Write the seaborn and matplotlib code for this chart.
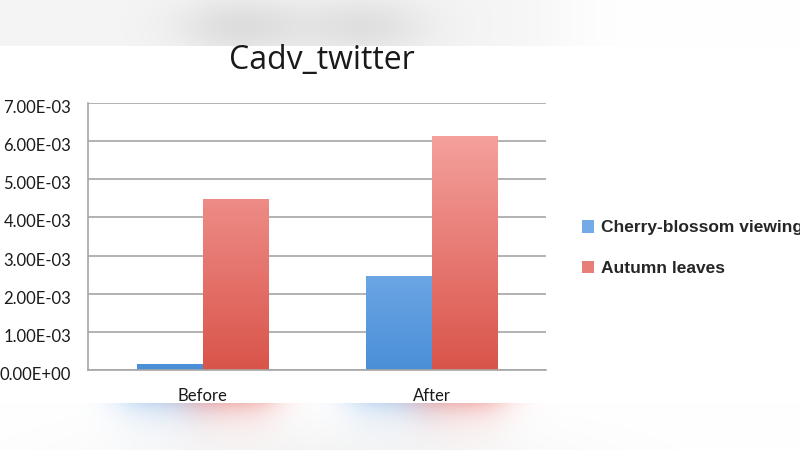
import numpy as np
import pandas as pd
import seaborn as sns
import matplotlib.pyplot as plt
from matplotlib.ticker import FuncFormatter, MultipleLocator
from matplotlib.colors import LinearSegmentedColormap, to_rgb
from matplotlib.patches import Patch
from matplotlib.transforms import ScaledTranslation

# data
periods = ["Before", "After"]
cherry = [1.6e-4, 2.47e-3]
autumn = [4.48e-3, 6.14e-3]
series_names = ["Cherry-blossom viewing", "Autumn leaves"]

df = pd.DataFrame({
    "period": periods * 2,
    "value": cherry + autumn,
    "series": [series_names[0]] * 2 + [series_names[1]] * 2,
})

sns.set_theme(style="white")
plt.rcParams['font.family'] = ['Lato', 'DejaVu Sans']

blue_top, blue_bot = "#aacffb", "#4a8fd8"
red_top, red_bot = "#f9aba8", "#d9544a"

fig = plt.figure(figsize=(8, 4.5), dpi=100)

# background layer for the blurred photo bands
bg = fig.add_axes([0, 0, 1, 1], zorder=-5)
bg.set_axis_off()

ax = fig.add_axes([88 / 800, 1 - 370 / 450, 458 / 800, 267 / 450])
sns.barplot(data=df, x="period", y="value", hue="series", order=periods,
            hue_order=series_names, palette=[blue_bot, red_bot],
            width=0.57, gap=0, saturation=1, ax=ax, legend=False)

ax.set_xlim(-0.5, 1.5)
ax.set_ylim(0, 7e-3)
ax.yaxis.set_major_locator(MultipleLocator(1e-3))
ax.yaxis.set_major_formatter(FuncFormatter(lambda v, p: f"{v:.2E}"))
ax.grid(axis="y", color="#a6a6a6", linewidth=1.2)
ax.set_axisbelow(True)
for s in ["top", "right"]:
    ax.spines[s].set_visible(False)
for s in ["left", "bottom"]:
    ax.spines[s].set_color("#a6a6a6")
    ax.spines[s].set_linewidth(1.2)
ax.tick_params(axis="both", length=0, labelsize=12, colors="#1a1a1a")
ax.tick_params(axis="y", pad=12)
ax.tick_params(axis="x", pad=13)
shift = ScaledTranslation(0, -3.5 / 100, fig.dpi_scale_trans)
for t in ax.get_yticklabels():
    t.set_transform(t.get_transform() + shift)
ax.set_xlabel("")
ax.set_ylabel("")

# vertical gradient fill inside each bar
cmaps = {"b": LinearSegmentedColormap.from_list("b", [blue_bot, blue_top]),
         "r": LinearSegmentedColormap.from_list("r", [red_bot, red_top])}
grad = np.linspace(0, 1, 256).reshape(-1, 1)
bars = list(ax.patches)
for i, bar in enumerate(bars):
    key = "b" if i < len(periods) else "r"
    x0, w, h = bar.get_x(), bar.get_width(), bar.get_height()
    im = ax.imshow(grad, cmap=cmaps[key], origin="lower", aspect="auto",
                   extent=(x0, x0 + w, 0, 7e-3), zorder=2)
    im.set_clip_path(bar)
    bar.set_facecolor("none")
    bar.set_edgecolor("none")
ax.set_xlim(-0.5, 1.5)
ax.set_ylim(0, 7e-3)

# top band: light grey with two soft blobs
W, H = 800, 450
xx, yy = np.meshgrid(np.arange(W), np.arange(46))
base = 1.0 - 0.04 / (1 + np.exp((xx - 560) / 25.0))
blob = 0.09 * np.exp(-((xx - 240) / 65.0) ** 2) + 0.08 * np.exp(-((xx - 365) / 65.0) ** 2)
blob = blob * np.exp(-((yy - 26) / 30.0) ** 2)
top = np.clip(base - blob, 0, 1)
bg.imshow(np.dstack([top] * 3), extent=(0, W, 46, 0), aspect="auto")

# bottom band: blurred mirror of the bars
xb, yb = np.meshgrid(np.arange(W), np.arange(47))
bot = np.ones((47, W, 3))
haze = 0.04 * np.exp(-((xb - 330) / 230.0) ** 2) * (yb / 47.0)
bot -= haze[..., None]
for i, bar in enumerate(bars):
    col = np.array(to_rgb("#9cc3ec" if i < len(periods) else "#ea8a85"))
    x0, w = bar.get_x(), bar.get_width()
    px0 = 88 + (x0 + 0.5) / 2 * 458 - 15
    px1 = 88 + (x0 + w + 0.5) / 2 * 458 + 5
    mx = 1 / (1 + np.exp(-(xb - px0) / 12.0)) / (1 + np.exp((xb - px1) / 12.0))
    my = np.exp(-yb / 16.0)
    a = 0.6 * mx * my
    bot = bot * (1 - a[..., None]) + col * a[..., None]
bg.imshow(bot, extent=(0, W, H, 403), aspect="auto")
bg.set_xlim(0, W)
bg.set_ylim(H, 0)

fig.suptitle("Cadv_twitter", x=322 / 800, y=1 - 60 / 450, va="center",
             fontsize=23, family=["Open Sans", "DejaVu Sans"], color="#1a1a1a")

# legend
handles = [Patch(facecolor="#74aae8", edgecolor="none"),
           Patch(facecolor="#e77e78", edgecolor="none")]
fig.legend(handles, series_names, loc="center left", bbox_to_anchor=(566 / 800, 1 - 248 / 450),
           frameon=False, handlelength=0.72, handleheight=0.72, handletextpad=0.4,
           labelspacing=1.45, prop={"family": "Liberation Sans", "weight": "bold", "size": 12.5})

fig.savefig("out.png", dpi=100)
